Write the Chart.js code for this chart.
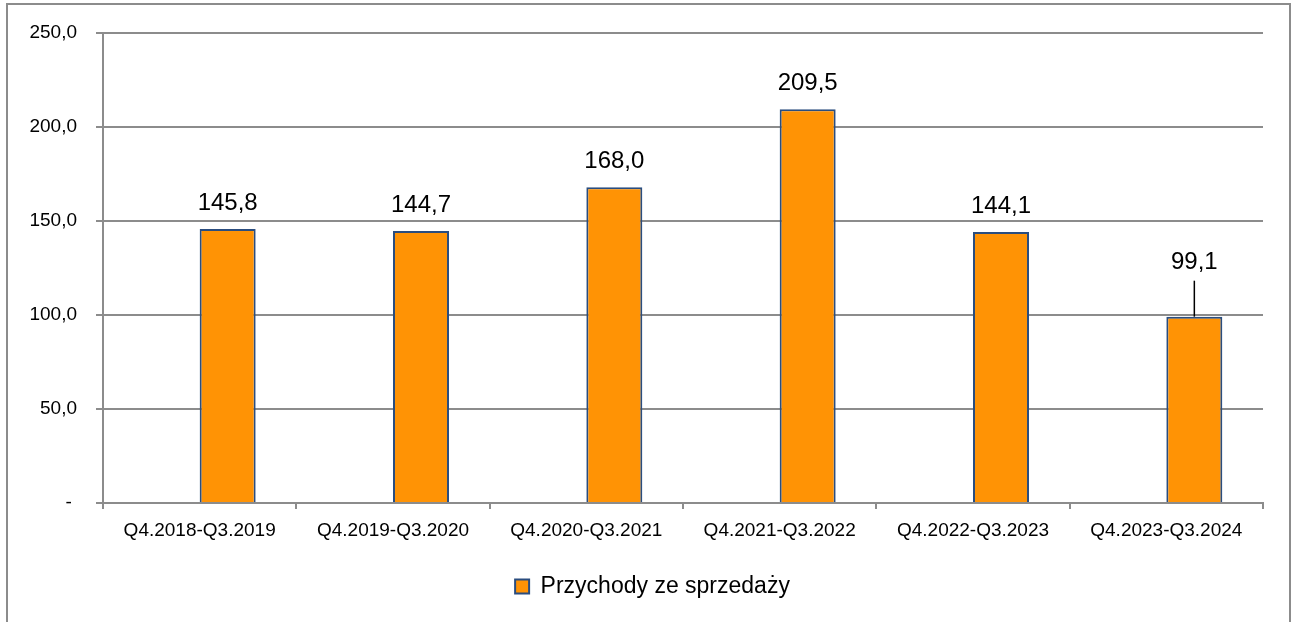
<!DOCTYPE html>
<html lang="pl">
<head>
    <meta charset="UTF-8">
    <title>Przychody ze sprzedaży</title>
    <script src="https://cdn.jsdelivr.net/npm/chart.js"></script>
    <style>
        html, body {
            margin: 0;
            padding: 0;
            background: #fff;
        }
        #chartContainer {
            width: 1294px;
            height: 622px;
            position: relative;
        }
    </style>
</head>
<body>
    <div id="chartContainer">
        <canvas id="salesChart"></canvas>
    </div>

    <script>
        // Dane wykresu
        const periods = ['Q4.2018-Q3.2019', 'Q4.2019-Q3.2020', 'Q4.2020-Q3.2021',
                         'Q4.2021-Q3.2022', 'Q4.2022-Q3.2023', 'Q4.2023-Q3.2024'];
        const revenue = [145.8, 144.7, 168.0, 209.5, 144.1, 99.1];
        const seriesName = 'Przychody ze sprzedaży';
        const yTicks = [0, 50, 100, 150, 200, 250];

        const FONT = "'Liberation Sans', Arial, sans-serif";
        const GRID = '#8c8c8c';

        function fmt(v) {
            return v.toFixed(1).replace('.', ',');
        }

        // Etykiety danych nad słupkami (ostatnia przesunięta w górę z linią odniesienia)
        const barLabels = {
            id: 'barLabels',
            afterDatasetsDraw(chart, args, opts) {
                const ctx = chart.ctx;
                const meta = chart.getDatasetMeta(1);
                ctx.save();
                ctx.font = '24px ' + FONT;
                ctx.fillStyle = '#000';
                ctx.textAlign = 'center';
                ctx.textBaseline = 'alphabetic';
                meta.data.forEach((bar, i) => {
                    const lift = opts.lift[i] || 0;
                    const y = bar.y - 19 - lift;
                    ctx.fillText(fmt(revenue[i]), bar.x, y);
                    if (lift > 0) {
                        ctx.strokeStyle = '#000';
                        ctx.lineWidth = 1.5;
                        ctx.beginPath();
                        ctx.moveTo(bar.x, y + 12);
                        ctx.lineTo(bar.x, bar.y);
                        ctx.stroke();
                    }
                });
                ctx.restore();
            }
        };

        // Legenda lekko w prawo, jak w oryginale
        const legendShift = {
            id: 'legendShift',
            afterLayout(chart) {
                if (chart.legend) {
                    chart.legend.left += 21;
                    chart.legend.right += 21;
                }
            }
        };

        // Ramka wokół wykresu
        const frame = {
            id: 'frame',
            afterDraw(chart) {
                const ctx = chart.ctx;
                ctx.save();
                ctx.strokeStyle = GRID;
                ctx.lineWidth = 2;
                ctx.beginPath();
                ctx.moveTo(7, 640);
                ctx.lineTo(7, 4);
                ctx.lineTo(1290, 4);
                ctx.lineTo(1290, 640);
                ctx.stroke();
                ctx.restore();
            }
        };

        const ctx = document.getElementById('salesChart').getContext('2d');
        const salesChart = new Chart(ctx, {
            type: 'bar',
            data: {
                labels: periods,
                datasets: [
                    {
                        label: '',
                        data: periods.map(() => null)
                    },
                    {
                        label: seriesName,
                        data: revenue,
                        backgroundColor: '#FF9305',
                        borderColor: '#2A4D7F',
                        borderWidth: 2
                    }
                ]
            },
            options: {
                responsive: true,
                maintainAspectRatio: false,
                animation: false,
                categoryPercentage: 0.5793,
                barPercentage: 1,
                layout: {
                    padding: { top: 33, left: 0, right: 31, bottom: 14 }
                },
                plugins: {
                    legend: {
                        position: 'bottom',
                        labels: {
                            filter: item => item.text !== '',
                            font: { family: FONT, size: 23 },
                            color: '#000',
                            boxWidth: 14,
                            boxHeight: 14,
                            padding: 10
                        }
                    },
                    tooltip: { enabled: false },
                    barLabels: { lift: [0, 0, 0, 0, 0, 29] }
                },
                scales: {
                    x: {
                        grid: {
                            display: true,
                            drawOnChartArea: false,
                            drawTicks: true,
                            tickLength: 6,
                            color: GRID,
                            lineWidth: 2
                        },
                        border: { color: GRID, width: 2 },
                        ticks: {
                            font: { family: FONT, size: 19 },
                            color: '#000',
                            padding: 10,
                            maxRotation: 0,
                            autoSkip: false
                        },
                        afterFit(scale) { scale.height = 62; }
                    },
                    y: {
                        min: 0,
                        max: 250,
                        afterBuildTicks(scale) {
                            scale.ticks = yTicks.map(v => ({ value: v }));
                        },
                        grid: {
                            color: GRID,
                            lineWidth: 2,
                            tickLength: 7
                        },
                        border: { color: GRID, width: 2 },
                        ticks: {
                            font: { family: FONT, size: 19 },
                            color: '#000',
                            padding: 19,
                            callback: v => v === 0 ? '- ' : fmt(v)
                        },
                        afterFit(scale) { scale.width = 103; }
                    }
                }
            },
            plugins: [barLabels, legendShift, frame]
        });
    </script>
</body>
</html>
